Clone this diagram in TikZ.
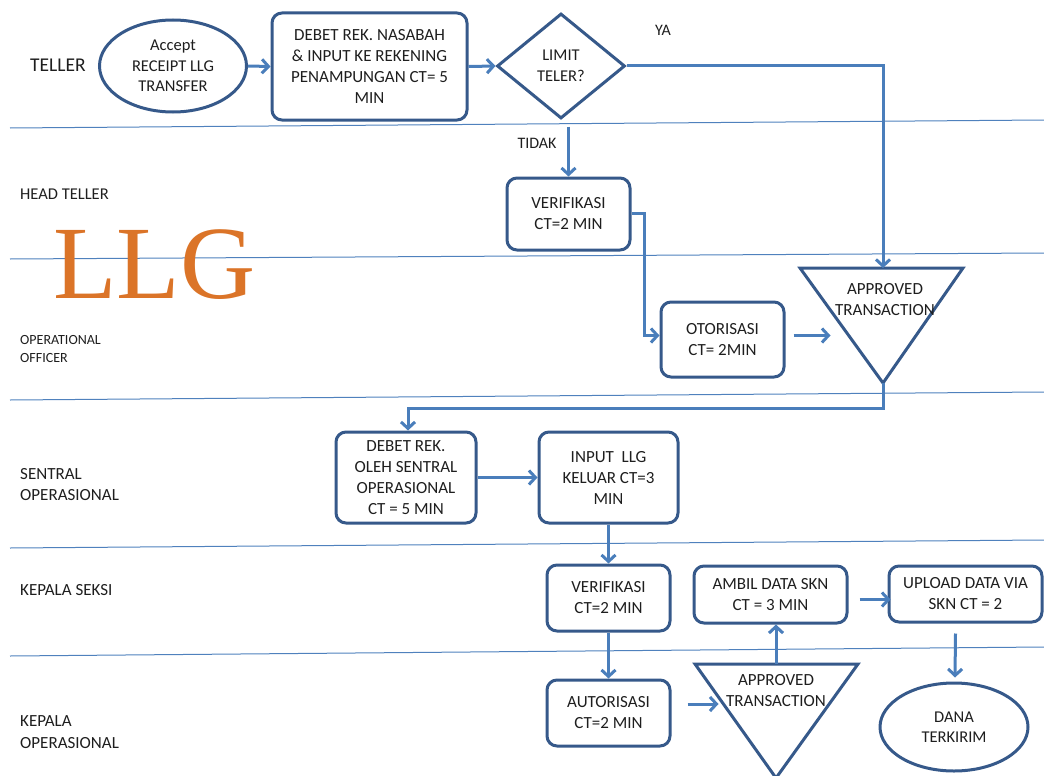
\documentclass[tikz,border=0pt]{standalone}
\usepackage{fontspec}
\setmainfont{Carlito}
\newfontfamily\llgfont{Liberation Serif}
\usetikzlibrary{arrows.meta,shapes.geometric,calc}
\definecolor{boxblue}{HTML}{36598A}
\definecolor{arrblue}{HTML}{4A7EBB}
\definecolor{lanecol}{HTML}{4F81BD}
\definecolor{llgorange}{HTML}{DB7428}
\definecolor{inktext}{HTML}{1E1E1E}

\begin{document}
\begin{tikzpicture}[x=1pt,y=-1pt,
  box/.style={draw=boxblue, line width=3pt, rounded corners=10pt, align=center,
    font=\fontsize{17}{21}\selectfont, inner sep=1pt, text=inktext},
  oval/.style={draw=boxblue, line width=3pt, ellipse, align=center,
    font=\fontsize{16.5}{20.5}\selectfont, inner sep=0pt, text=inktext},
  decision/.style={draw=boxblue, line width=3pt, diamond, align=center,
    font=\fontsize{16.5}{20.5}\selectfont, inner sep=0pt, text=inktext},
  merge/.style={draw=boxblue, line width=3pt, line join=miter},
  arr/.style={draw=arrblue, line width=3pt,
    -{Straight Barb[length=6.5pt,width=14pt,line width=3pt]}},
  link/.style={draw=arrblue, line width=3pt},
  lane/.style={draw=lanecol, line width=1pt},
  lanelabel/.style={anchor=west, align=left, text=inktext, inner sep=0pt},
  tag/.style={text=inktext, font=\fontsize{16}{19}\selectfont, inner sep=0pt},
  tritext/.style={align=center, text=inktext, font=\fontsize{17}{21}\selectfont, inner sep=0pt}
]
\useasboundingbox (0,0) rectangle (1044,776);

% swim-lane separators
\draw[lane] (10,128) -- (1044,120);
\draw[lane] (10,259) -- (1044,253);
\draw[lane] (10,400) -- (1044,392);
\draw[lane] (10,548) -- (1044,540);
\draw[lane] (10,656) -- (1044,647);

% lane titles
\node[lanelabel, font=\fontsize{19.5}{23}\selectfont] (lTeller) at (30,65) {TELLER};
\node[lanelabel, font=\fontsize{16.5}{19}\selectfont] (lHead) at (20,194) {HEAD TELLER};
\node[lanelabel, font=\fontsize{14}{17.5}\selectfont] (lOO) at (20,349) {OPERATIONAL\\OFFICER};
\node[lanelabel, font=\fontsize{17}{21}\selectfont] (lSO) at (20,485) {SENTRAL\\OPERASIONAL};
\node[lanelabel, font=\fontsize{17}{21}\selectfont] (lKS) at (20,590) {KEPALA SEKSI};
\node[lanelabel, font=\fontsize{17}{22}\selectfont] (lKO) at (20,732) {KEPALA\\OPERASIONAL};

% big title
\node[anchor=base west, inner sep=0pt, text=llgorange,
      font=\llgfont\fontsize{104}{104}\selectfont] (title) at (53,298) {LLG};

% teller lane
\node[oval, minimum width=147pt, minimum height=92pt] (start) at (173,66)
  {Accept\\RECEIPT LLG\\TRANSFER};
\node[box, minimum width=195pt, minimum height=107pt] (debet) at (369.5,66.5)
  {DEBET REK. NASABAH\\\& INPUT KE REKENING\\PENAMPUNGAN CT= 5\\MIN};
\node[decision, minimum width=128pt, minimum height=105pt] (limit) at (561,66)
  {LIMIT\\TELER?};
\node[tag] (ya) at (663,30) {YA};

% head teller / operational officer
\node[tag] (tidak) at (537,143) {TIDAK};
\node[box, minimum width=123pt, minimum height=72pt] (ver1) at (568.5,214)
  {VERIFIKASI\\CT=2 MIN};
\node[box, minimum width=123pt, minimum height=75pt] (oto) at (722.5,339.5)
  {OTORISASI\\CT= 2MIN};

% first approval (merge triangle)
\coordinate (t1top) at (883,268);
\coordinate (t1apex) at (883,383);
\draw[merge] (800,268) -- (963,268) -- (t1apex) -- cycle;
\node[tritext] (t1label) at (885,300) {APPROVED\\TRANSACTION};

% sentral operasional
\node[box, minimum width=140pt, minimum height=91pt] (debso) at (406,477.5)
  {DEBET REK.\\OLEH SENTRAL\\OPERASIONAL\\CT = 5 MIN};
\node[box, minimum width=139pt, minimum height=91pt] (input) at (608.5,477.5)
  {INPUT\ \ LLG\\KELUAR CT=3\\MIN};

% kepala seksi / kepala operasional
\node[box, minimum width=123pt, minimum height=66pt] (ver2) at (608.5,598)
  {VERIFIKASI\\CT=2 MIN};
\node[box, minimum width=123pt, minimum height=66pt] (aut) at (608.5,713)
  {AUTORISASI\\CT=2 MIN};
\coordinate (t2top) at (776,664);
\draw[merge] (695,664) -- (858,664) -- (776,778) -- cycle;
\node[tritext] (t2label) at (776,691) {APPROVED\\TRANSACTION};
\node[box, minimum width=153pt, minimum height=57pt] (ambil) at (770.5,594.5)
  {AMBIL DATA SKN\\CT = 3 MIN};
\node[box, minimum width=153pt, minimum height=56pt] (upload) at (965.5,594)
  {UPLOAD DATA VIA\\SKN CT = 2};
\node[oval, minimum width=148pt, minimum height=88pt] (dana) at (954,727)
  {DANA\\TERKIRIM};

% connectors
\draw[arr] (start.east) -- (debet.west);
\draw[arr] (debet.east) -- (limit.west);
\draw[arr] (limit.east) -| (t1top);
\draw[arr] ($(ver1.north)+(0,-50)$) -- (ver1.north);
\draw[arr] ($(ver1.east)+(0,-1)$) -| ($(oto.west)+(-15,-4)$) -- ($(oto.west)+(0,-4)$);
\coordinate (otoEnd) at ($(oto.east)+(45,-4)$);
\draw[arr] ($(oto.east)+(8,-4)$) -- (otoEnd);
\draw[link] (t1apex) -- (883,408) -| ($(debso.north)+(2,-4)$);
\draw[arr] (408,412) -- ($(debso.north)+(2,0)$);
\draw[arr] (debso.east) -- (input.west);
\draw[arr] (input.south) -- (ver2.north);
\draw[arr] (ver2.south) -- (aut.north);
\coordinate (autEnd) at ($(aut.east)+(47,-9)$);
\draw[arr] ($(aut.east)+(16,-9)$) -- (autEnd);
\draw[arr] (t2top) -- (t2top |- ambil.south);
\coordinate (ambilEnd) at ($(ambil.east)+(42,5)$);
\draw[arr] ($(ambil.east)+(11,5)$) -- (ambilEnd);
\draw[arr] ($(upload.south)+(-10,10)$) -- ($(dana.north)+(1,-4)$);

\end{tikzpicture}
\end{document}
